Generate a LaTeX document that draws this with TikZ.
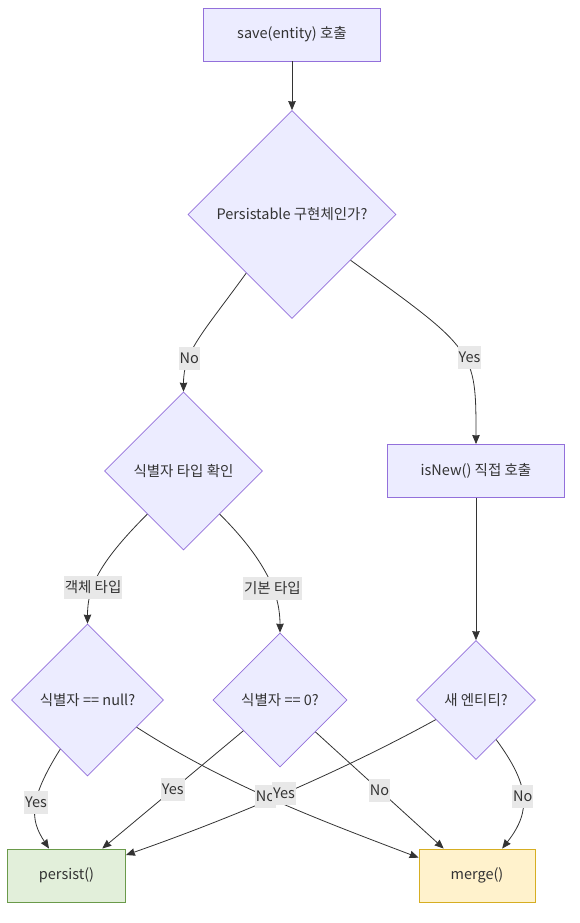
\documentclass[tikz,border=0pt]{standalone}
\usepackage{fontspec}
\setmainfont{Noto Sans CJK KR}
\usetikzlibrary{shapes.geometric}
\usetikzlibrary{positioning}
\usetikzlibrary{arrows.meta}

\definecolor{nodefill}{HTML}{ECECFF}
\definecolor{nodeline}{HTML}{9370DB}
\definecolor{edgeline}{HTML}{333333}
\definecolor{labelfill}{HTML}{E8E8E8}
\definecolor{persistfill}{HTML}{E2EFDA}
\definecolor{persistline}{HTML}{6A9A4A}
\definecolor{mergefill}{HTML}{FFF2CC}
\definecolor{mergeline}{HTML}{D6AE22}

\begin{document}
\begin{tikzpicture}[x=1pt,y=1pt,>={Stealth[length=9pt,width=7.5pt,inset=0.5pt]},
	font=\fontsize{14.5}{17}\selectfont,text=edgeline,
	step node/.style={rectangle,draw=nodeline,fill=nodefill,line width=0.9pt,
		minimum width=177pt,minimum height=53pt,inner sep=0pt},
	check node/.style={diamond,aspect=1,draw=nodeline,fill=nodefill,line width=0.7pt,inner sep=0pt},
	end node/.style={rectangle,line width=0.9pt,minimum width=118pt,minimum height=53pt,inner sep=0pt},
	lbl/.style={fill=labelfill,inner xsep=1pt,inner ysep=0pt,minimum height=23pt},
	every path/.style={draw=edgeline,line width=0.8pt}]

	\useasboundingbox[draw=none] (0,0) rectangle (580,-923);

	\node[step node] (save) at (292,-34.5) {save(entity) 호출};
	\node[check node,minimum size=208pt] (pers) [below of=save,node distance=180pt] {Persistable 구현체인가?};
	\node[check node,minimum size=158pt] (type) at (183.5,-471) {식별자 타입 확인};
	\node[step node] (isnew) at (476,-471) {isNew() 직접 호출};
	\node[check node,minimum size=152pt] (null) at (87.5,-700) {식별자 == null?};
	\node[check node,minimum size=134pt] (zero) at (280,-700) {식별자 == 0?};
	\node[check node,minimum size=119pt] (newent) [below of=isnew,node distance=229pt] {새 엔티티?};
	\node[end node,draw=persistline,fill=persistfill] (persist) at (66.5,-875.5) {persist()};
	\node[end node,draw=mergeline,fill=mergefill,minimum width=116pt] (merge) at (477,-875.5) {merge()};

	\draw[->] (save) -- (pers);
	\draw[->] (pers.232) .. controls +(-45,-62) and +(0,40) .. (type.north) node[lbl,pos=.68] {No};
	\draw[->] (pers.322) .. controls +(125,-90) and +(0,94) .. (isnew.north) node[lbl,pos=.55,xshift=5pt] {Yes};
	\draw[->] (type.230) .. controls +(-50,-50) and +(0,35) .. (null.north) node[lbl,pos=.63] {객체 타입};
	\draw[->] (type.310) .. controls +(50,-50) and +(0,35) .. (zero.north) node[lbl,pos=.58] {기본 타입};
	\draw[->] (isnew) -- (newent);
	\draw[->] (null.241) .. controls +(-32,-51) and +(-19,29) .. (persist.123) node[lbl,pos=.45] {Yes};
	\draw[->] (zero.220) -- (persist.37) node[lbl,pos=.5] {Yes};
	\draw[->] (zero.318) -- (merge.141) node[lbl,pos=.5] {No};
	\draw[->] (newent.297) .. controls +(33,-45) and +(30,38) .. (merge.47) node[lbl,pos=.5] {No};
	% these two cross, labels go on top of both lines
	\draw[->] (null.331) .. controls +(90,-58) and +(-100,38) .. (merge.163) coordinate[pos=.47] (nullno);
	\draw[->] (newent.206) .. controls +(-100,-55) and +(100,35) .. (persist.19) coordinate[pos=.49] (newyes);
	\node[lbl] at (nullno) {No};
	\node[lbl] at (newyes) {Yes};
\end{tikzpicture}
\end{document}
